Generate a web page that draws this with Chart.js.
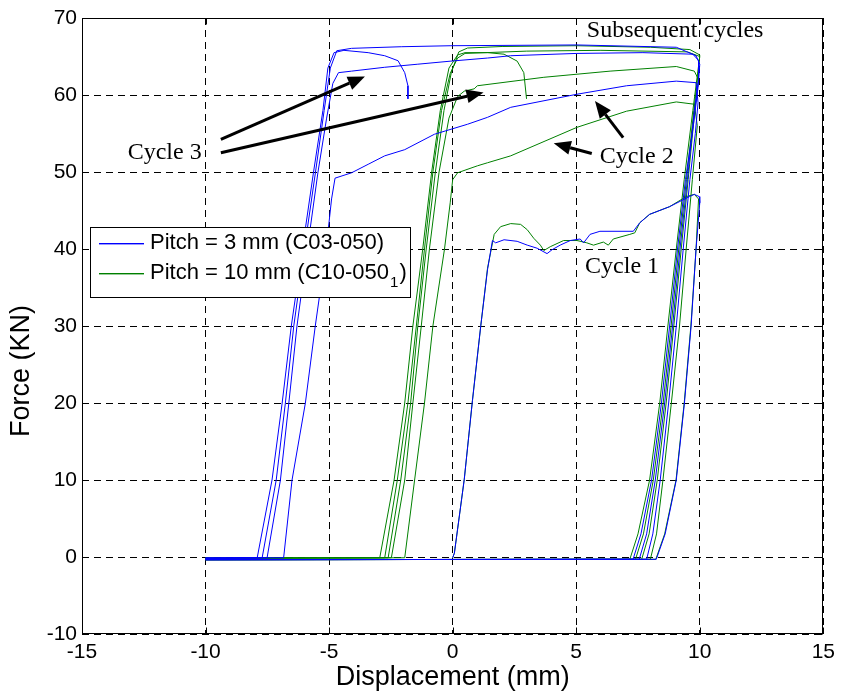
<!DOCTYPE html>
<html>
<head>
<meta charset="utf-8">
<script src="https://cdn.jsdelivr.net/npm/chart.js@4.4.0/dist/chart.umd.min.js"></script>
<style>
  html, body { margin: 0; padding: 0; background: #fff; }
  canvas { display: block; }
</style>
</head>
<body>
<canvas id="forceChart" width="841" height="692"></canvas>
<script>
// axes
const xTicks = [-15, -10, -5, 0, 5, 10, 15];
const yTicks = [-10, 0, 10, 20, 30, 40, 50, 60, 70];
const yTitle = 'Force (KN)';
const seriesLabels = ['Pitch = 3 mm (C03-050)', 'Pitch = 10 mm (C10-050'];
const seriesSub = ['', '1'];

// pitch 3 mm (blue) - [displacement, force]
const pitch3Cycle1 = [[0,-0.1],[0.07,0.5],[0.47,10.1],[0.8,20.3],[1.14,30.1],[1.41,37.3],[1.61,41.1],[1.74,40.8],[2.08,41.2],[2.61,41.0],[3.02,40.5],[3.42,40.1],[3.82,39.4],[4.02,39.9],[4.35,40.5],[4.76,41.1],[5.16,41.3],[5.30,40.8],[5.56,41.9],[5.96,42.3],[7.31,42.3],[7.57,43.4],[7.97,44.5],[8.78,45.5],[9.58,46.8],[9.78,47.1],[9.98,46.8],[10.0,46.0],[9.85,40],[9.65,30],[9.38,20],[9.05,10],[8.6,3],[8.24,-0.3],[-10,-0.35]];
const pitch3Cycle2 = [[-10,-0.15],[-6.84,-0.1],[-6.5,10],[-5.96,20],[-5.56,30],[-5.12,40],[-4.9,46.5],[-4.76,49.2],[-4.09,49.9],[-3.42,51.0],[-2.75,52.1],[-1.94,52.9],[-0.74,54.9],[0.6,56.2],[1.41,57.1],[2.35,58.4],[5.03,60.1],[7.04,61.2],[9.05,61.8],[9.85,61.6],[9.93,59],[9.82,55],[9.6,49],[9.33,40],[9.05,30],[8.74,20],[8.4,10],[8.1,3],[7.85,-0.3],[-10,-0.35]];
const pitch3Cycle3 = [[-10,-0.15],[-7.51,-0.1],[-6.97,10],[-6.63,20],[-6.3,30],[-5.88,40],[-5.45,50],[-5.1,57],[-4.85,61.5],[-4.62,62.9],[-4.09,63.1],[-2.75,63.6],[-1.41,64.0],[-0.07,64.4],[1.41,64.8],[2.35,65.1],[5.03,65.4],[7.7,65.5],[9.72,65.3],[9.95,64.5],[9.95,62],[9.78,58],[9.5,49],[9.2,40],[8.9,30],[8.58,20],[8.2,10],[7.85,3],[7.55,-0.3],[-10,-0.35]];
const pitch3Later = [[-10,-0.15],[-7.71,-0.1],[-7.14,10],[-6.77,20],[-6.43,30],[-6.0,40],[-5.55,50],[-5.2,58],[-4.95,63.5],[-4.69,65.75],[-4.09,66.06],[-2.08,66.27],[-0.07,66.4],[5.03,66.5],[9.05,66.2],[9.85,65.1],[10,64],[9.93,61],[9.74,56],[9.42,49],[9.1,40],[8.78,30],[8.45,20],[8.05,10],[7.62,3],[7.3,-0.3],[-10,-0.35]];
const pitch3Last = [[-10,-0.15],[-7.91,-0.1],[-7.31,10],[-6.9,20],[-6.53,30],[-6.08,40],[-5.63,50],[-5.25,58],[-5.05,63.5],[-4.8,65.5],[-4.4,65.8],[-3.42,65.5],[-2.75,65.1],[-2.21,64.45],[-1.94,62.9],[-1.81,61.2],[-1.81,59.5]];

// pitch 10 mm (green)
const pitch10Cycle1 = [[0,-0.1],[0.07,0.5],[0.47,10.1],[0.8,20.3],[1.14,30.1],[1.41,37.5],[1.68,41.9],[1.94,42.9],[2.35,43.3],[2.75,43.2],[3.02,42.5],[3.28,41.4],[3.55,40.5],[3.69,39.8],[3.95,40.3],[4.49,41.1],[5.03,41.1],[5.43,40.8],[5.70,40.5],[6.10,40.9],[6.30,40.5],[6.50,41.3],[7.17,41.9],[7.37,42.1],[7.57,43.4],[7.97,44.5],[8.78,45.5],[9.45,46.8],[9.78,47.1],[9.95,46.5],[9.85,40],[9.64,30],[9.37,20],[9.04,10],[8.58,3],[8.22,-0.3],[-10,-0.35]];
const pitch10Cycle2 = [[-10,-0.15],[-1.94,-0.1],[-1.54,10],[-1.14,20],[-0.8,30],[-0.33,40],[-0.1,46],[0,49.0],[0.2,49.9],[1.0,50.8],[1.41,51.2],[2.35,52.1],[5.03,55.8],[7.04,57.9],[9.05,59.1],[9.78,58.8],[9.9,56],[9.7,49],[9.45,40],[9.18,30],[8.85,20],[8.51,10],[8.25,3],[8.0,-0.3],[-10,-0.35]];
const pitch10Cycle3 = [[-10,-0.15],[-2.48,-0.1],[-1.94,10],[-1.61,20],[-1.27,30],[-0.94,40],[-0.55,50],[-0.15,57],[0.2,59.8],[0.47,60.5],[0.87,60.8],[1.0,61.2],[3.69,62.3],[6.37,63.1],[9.05,63.7],[9.78,63.1],[9.95,62],[9.8,58],[9.53,49],[9.25,40],[8.95,30],[8.64,20],[8.28,10],[7.95,3],[7.65,-0.3],[-10,-0.35]];
const pitch10LaterA = [[-10,-0.15],[-2.61,-0.1],[-2.10,10],[-1.70,20],[-1.41,30],[-1.07,40],[-0.7,50],[-0.35,58],[-0.05,63],[0.25,65.6],[0.6,66.1],[2,66.3],[5,66.4],[8,66.2],[9.6,65.9],[10,65.2],[9.94,63],[9.76,58],[9.46,49],[9.15,40],[8.84,30],[8.52,20],[8.12,10],[7.72,3],[7.4,-0.3],[-10,-0.35]];
const pitch10LaterB = [[-10,-0.15],[-2.75,-0.1],[-2.24,10],[-1.81,20],[-1.47,30],[-1.14,40],[-0.8,50],[-0.45,58],[-0.1,62.8],[0.2,64.8],[0.5,65.4],[3,65.7],[6,65.8],[9.5,65.6],[10,65.0],[9.92,63],[9.72,58],[9.37,49],[9.05,40],[8.71,30],[8.38,20],[7.97,10],[7.5,3],[7.17,-0.3],[-10,-0.35]];
const pitch10Last = [[-10,-0.15],[-2.95,-0.1],[-2.37,10],[-1.94,20],[-1.61,30],[-1.21,40],[-0.85,50],[-0.5,58],[-0.15,63.5],[0.2,65.2],[0.5,65.5],[1.41,65.5],[2.08,65.3],[2.61,64.4],[2.88,62.9],[2.99,59.5]];

// annotations (data coordinates)
const notes = [
  { text: 'Subsequent cycles', x: 5.43, y: 68.3 },
  { text: 'Cycle 3', x: -13.15, y: 52.5 },
  { text: 'Cycle 2', x: 5.95, y: 52.0 },
  { text: 'Cycle 1', x: 5.36, y: 37.7 }
];
const arrows = [
  { from: [-9.38, 54.24], to: [-3.55, 62.41] },
  { from: [-9.38, 52.5], to: [1.25, 60.33] },
  { from: [6.90, 54.46], to: [5.76, 59.23] },
  { from: [5.63, 52.41], to: [4.09, 53.72] }
];

const BLUE = 'rgb(0, 0, 255)';
const GREEN = 'rgb(0, 128, 0)';
const sansFont = "'Liberation Sans', Arial, Helvetica, sans-serif";
const serifFont = "'Liberation Serif', 'Times New Roman', serif";

function toPoints(arr) {
  return arr.map(p => ({ x: p[0], y: p[1] }));
}

const blueCurves = [pitch3Cycle1, pitch3Cycle2, pitch3Cycle3, pitch3Later, pitch3Last];
const greenCurves = [pitch10Cycle1, pitch10Cycle2, pitch10Cycle3, pitch10LaterA, pitch10LaterB, pitch10Last];

const datasets = [];
blueCurves.forEach(c => datasets.push({ data: toPoints(c), borderColor: BLUE }));
greenCurves.forEach(c => datasets.push({ data: toPoints(c), borderColor: GREEN }));
datasets.forEach(d => {
  d.showLine = true;
  d.pointRadius = 0;
  d.borderWidth = 1;
  d.fill = false;
  d.tension = 0;
});

function drawArrow(ctx, x0, y0, x1, y1) {
  const ang = Math.atan2(y1 - y0, x1 - x0);
  const len = 17, half = 7;
  const bx = x1 - len * Math.cos(ang), by = y1 - len * Math.sin(ang);
  ctx.beginPath();
  ctx.moveTo(x0, y0);
  ctx.lineTo(bx, by);
  ctx.stroke();
  ctx.beginPath();
  ctx.moveTo(x1, y1);
  ctx.lineTo(bx + half * Math.sin(ang), by - half * Math.cos(ang));
  ctx.lineTo(bx - half * Math.sin(ang), by + half * Math.cos(ang));
  ctx.closePath();
  ctx.fill();
}

const decorations = {
  id: 'decorations',
  afterDraw(chart) {
    const { ctx, chartArea: a, scales: { x, y } } = chart;
    ctx.save();
    ctx.setLineDash([]);
    ctx.strokeStyle = '#000';
    ctx.fillStyle = '#000';
    ctx.lineWidth = 1;

    // box + inward ticks
    const L = Math.round(x.getPixelForValue(xTicks[0])) + 0.5;
    const R = Math.round(x.getPixelForValue(xTicks[xTicks.length - 1])) - 0.5;
    const T = Math.round(y.getPixelForValue(yTicks[yTicks.length - 1])) + 0.5;
    const B = Math.round(y.getPixelForValue(yTicks[0])) - 0.5;
    ctx.strokeRect(L, T, R - L, B - T);
    ctx.beginPath();
    xTicks.forEach(v => {
      const px = Math.round(x.getPixelForValue(v)) + 0.5;
      ctx.moveTo(px, B); ctx.lineTo(px, B - 6);
      ctx.moveTo(px, T); ctx.lineTo(px, T + 6);
    });
    yTicks.forEach(v => {
      const py = Math.round(y.getPixelForValue(v)) + 0.5;
      ctx.moveTo(L, py); ctx.lineTo(L + 6, py);
      ctx.moveTo(R, py); ctx.lineTo(R - 6, py);
    });
    ctx.stroke();

    // y axis title (sits a little below the axis centre in the original)
    ctx.save();
    ctx.font = '27px ' + sansFont;
    ctx.textAlign = 'center';
    ctx.textBaseline = 'middle';
    ctx.translate(22, (a.top + a.bottom) / 2 + 45);
    ctx.rotate(-Math.PI / 2);
    ctx.fillText(yTitle, 0, 0);
    ctx.restore();

    // text notes
    ctx.font = '24px ' + serifFont;
    ctx.textBaseline = 'middle';
    ctx.textAlign = 'left';
    notes.forEach(n => {
      ctx.fillText(n.text, x.getPixelForValue(n.x), y.getPixelForValue(n.y));
    });

    // arrows
    ctx.lineWidth = 3;
    arrows.forEach(ar => {
      drawArrow(ctx,
        x.getPixelForValue(ar.from[0]), y.getPixelForValue(ar.from[1]),
        x.getPixelForValue(ar.to[0]), y.getPixelForValue(ar.to[1]));
    });

    // legend box
    const lx = a.left + 8, ly = a.top + 209, lw = 320, lh = 70;
    ctx.lineWidth = 1;
    ctx.fillStyle = '#fff';
    ctx.fillRect(lx, ly, lw, lh);
    ctx.strokeStyle = '#000';
    ctx.strokeRect(lx + 0.5, ly + 0.5, lw, lh);
    const rows = [ly + 16, ly + 46];
    for (let i = 0; i < seriesLabels.length; i++) {
      const col = i === 0 ? BLUE : GREEN;
      ctx.fillStyle = col;
      ctx.fillRect(lx + 9, rows[i], 45, 1.4);
      ctx.fillStyle = '#000';
      ctx.font = '22px ' + sansFont;
      ctx.textBaseline = 'middle';
      let tx = lx + 60;
      const lab = seriesLabels[i];
      ctx.fillText(lab, tx, rows[i]);
      if (seriesSub[i]) {
        tx += ctx.measureText(lab).width;
        ctx.font = '15px ' + sansFont;
        ctx.fillText(seriesSub[i], tx + 1, rows[i] + 10);
        tx += ctx.measureText(seriesSub[i]).width + 2;
        ctx.font = '22px ' + sansFont;
        ctx.fillText(')', tx, rows[i]);
      }
    }
    ctx.restore();
  }
};

new Chart(document.getElementById('forceChart').getContext('2d'), {
  type: 'scatter',
  data: { datasets },
  options: {
    responsive: false,
    animation: false,
    devicePixelRatio: 1,
    layout: { padding: { top: 18, right: 13, left: 0, bottom: 0 } },
    plugins: { legend: { display: false }, tooltip: { enabled: false } },
    scales: {
      x: {
        type: 'linear',
        min: xTicks[0],
        max: xTicks[xTicks.length - 1],
        afterFit(s) { s.height = 58; },
        ticks: { stepSize: 5, color: '#000', padding: 6, font: { family: sansFont, size: 21 } },
        grid: { color: '#000', drawTicks: false, lineWidth: 1 },
        border: { display: false, dash: [7, 5] },
        title: { display: true, text: 'Displacement (mm)', color: '#000',
                 font: { family: sansFont, size: 27, lineHeight: 1 }, padding: { top: 0, bottom: 1 } }
      },
      y: {
        type: 'linear',
        min: yTicks[0],
        max: yTicks[yTicks.length - 1],
        afterFit(s) { s.width = 82; },
        ticks: { stepSize: 10, color: '#000', padding: 5, font: { family: sansFont, size: 21 } },
        grid: { color: '#000', drawTicks: false, lineWidth: 1 },
        border: { display: false, dash: [7, 5] },
        title: { display: false }
      }
    }
  },
  plugins: [decorations]
});
</script>
</body>
</html>
